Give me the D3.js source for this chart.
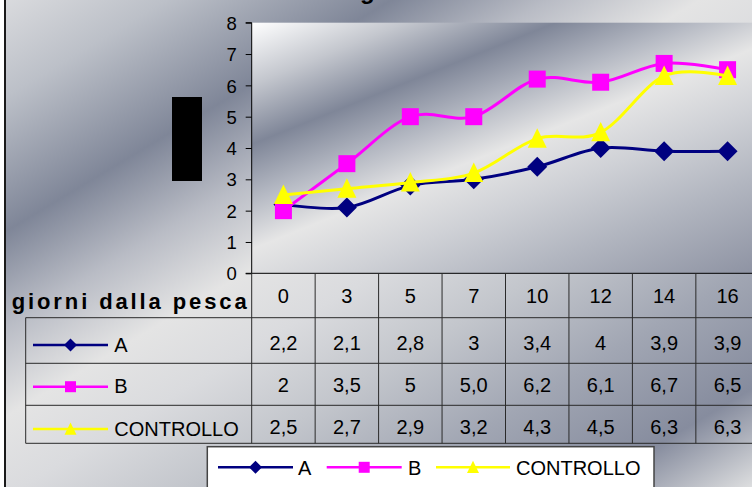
<!DOCTYPE html>
<html>
<head>
<meta charset="utf-8">
<script src="https://cdn.jsdelivr.net/npm/d3@7"></script>
<style>
  html, body { margin: 0; padding: 0; background: #ffffff; }
  svg { display: block; font-family: "Liberation Sans", Arial, sans-serif; }
</style>
</head>
<body>
<svg id="chart" width="752" height="487"></svg>
<script>
// Days since catch (category axis)
const days = ["0", "3", "5", "7", "10", "12", "14", "16"];
const seriesNames = ["A", "B", "CONTROLLO"];
const seriesColors = ["#000080", "#FF00FF", "#FFFF00"];
const seriesMarkers = ["diamond", "square", "triangle"];

// Series values
const valuesA = [2.2, 2.1, 2.8, 3, 3.4, 4, 3.9, 3.9];
const valuesB = [2, 3.5, 5, 5.0, 6.2, 6.1, 6.7, 6.5];
const valuesC = [2.5, 2.7, 2.9, 3.2, 4.3, 4.5, 6.3, 6.3];

// Cell texts of the data table
const labelsA = ["2,2", "2,1", "2,8", "3", "3,4", "4", "3,9", "3,9"];
const labelsB = ["2", "3,5", "5", "5,0", "6,2", "6,1", "6,7", "6,5"];
const labelsC = ["2,5", "2,7", "2,9", "3,2", "4,3", "4,5", "6,3", "6,3"];

const yTicks = [0, 1, 2, 3, 4, 5, 6, 7, 8];
const xAxisTitle = "giorni dalla pesca";
const chartTitle = "Valutazione del gusto";

const series = seriesNames.map((name, i) => ({
  name,
  color: seriesColors[i],
  marker: seriesMarkers[i],
  values: [valuesA, valuesB, valuesC][i],
  labels: [labelsA, labelsB, labelsC][i]
}));

const svg = d3.select("#chart");
const defs = svg.append("defs");

// Metallic background of the whole chart
const bgGrad = defs.append("linearGradient")
  .attr("id", "bgGrad").attr("gradientUnits", "userSpaceOnUse")
  .attr("x1", 0).attr("y1", 0).attr("x2", 441).attr("y2", 735);
[[0, "#dadbde"], [0.1, "#bcc0c8"], [0.235, "#7f8698"], [0.33, "#b9bcc5"], [0.42, "#e4e4e4"],
 [0.5, "#dadbde"], [0.6, "#c3c6cc"], [0.72, "#a1a6b3"], [0.84, "#868c9e"],
 [0.94, "#dedfe0"], [1, "#e6e6e6"]]
  .forEach(([o, c]) => bgGrad.append("stop").attr("offset", o).attr("stop-color", c));

// Metallic background of the plot area
const plotGrad = defs.append("linearGradient")
  .attr("id", "plotGrad").attr("gradientUnits", "userSpaceOnUse")
  .attr("x1", 34.5).attr("y1", 86.2).attr("x2", 206.9).attr("y2", 517.2);
[[0, "#ffffff"], [0.046, "#ffffff"], [0.17, "#c4c7ce"], [0.29, "#7f8698"], [0.4, "#b5b9c3"],
 [0.5, "#e6e6e6"], [0.62, "#cfd1d6"], [0.76, "#b2b6c0"], [0.95, "#8e93a3"], [1, "#8a90a0"]]
  .forEach(([o, c]) => plotGrad.append("stop").attr("offset", o).attr("stop-color", c));

// Chart area
svg.append("rect").attr("x", 5).attr("y", -50).attr("width", 800).attr("height", 600)
  .attr("fill", "url(#bgGrad)");
svg.append("line").attr("x1", 5).attr("x2", 5).attr("y1", 0).attr("y2", 487)
  .attr("stroke", "#1a1a1a").attr("stroke-width", 2);

// Title (mostly above the visible area)
const title = svg.append("text").attr("y", -1)
  .attr("font-size", 24).attr("font-weight", "bold").attr("fill", "#000")
  .text(chartTitle);
const gIdx = chartTitle.indexOf("g");
const gOffset = title.node().getSubStringLength(0, gIdx);
title.attr("x", 360 - gOffset);

// Scales
const x = d3.scaleBand().domain(days).range([251.7, 759.3]);
const y = d3.scaleLinear().domain([0, 8]).range([273.3, 22.7]);

// Plot area
svg.append("rect")
  .attr("x", x.range()[0]).attr("y", y(8))
  .attr("width", x.range()[1] - x.range()[0]).attr("height", y(0) - y(8))
  .attr("fill", "url(#plotGrad)");

// Y axis
const yAxis = svg.append("g").attr("transform", `translate(${x.range()[0]},0)`)
  .call(d3.axisLeft(y).tickValues(yTicks).tickSize(6).tickPadding(9).tickFormat(d3.format("d")));
yAxis.select(".domain").attr("stroke", "#000").attr("stroke-width", 1).attr("d", `M-6,${y(8)}H0V${y(0)}`);
yAxis.selectAll(".tick line").attr("stroke", "#000");
yAxis.selectAll(".tick text").attr("font-size", 18.5).attr("fill", "#000")
  .attr("font-family", "'Liberation Sans', Arial, sans-serif").attr("dy", "0.36em");

// Y axis title block
svg.append("rect").attr("x", 172).attr("y", 97).attr("width", 30).attr("height", 84).attr("fill", "#000");

// Data table
const rowTops = [273.3, 317.7, 363.3, 405.3, 443.3];
const headerBaseline = 302.7;
const rowBaselines = [350, 391.7, 434];
const keyLeft = 25.7;
const tableRight = x.range()[1];
const tbl = svg.append("g").attr("stroke", "#2a2a2a").attr("stroke-width", 1);

// x axis line / table top
tbl.append("line").attr("x1", x.range()[0] - 6).attr("x2", tableRight)
  .attr("y1", rowTops[0]).attr("y2", rowTops[0]).attr("stroke", "#000");
// horizontal rules
rowTops.slice(1).forEach((ry, i) => {
  tbl.append("line").attr("x1", keyLeft).attr("x2", tableRight).attr("y1", ry).attr("y2", ry);
});
// column rules
days.forEach(d => {
  tbl.append("line").attr("x1", x(d)).attr("x2", x(d)).attr("y1", rowTops[0]).attr("y2", rowTops[4]);
});
tbl.append("line").attr("x1", keyLeft).attr("x2", keyLeft).attr("y1", rowTops[1]).attr("y2", rowTops[4]);

// header row: categories
svg.append("g").selectAll("text").data(days).join("text")
  .attr("x", d => x(d) + x.bandwidth() / 2).attr("y", headerBaseline)
  .attr("text-anchor", "middle").attr("font-size", 20).attr("fill", "#000")
  .text(d => d);

svg.append("text").attr("x", 11.7).attr("y", 308.5)
  .attr("font-size", 22).attr("font-weight", "bold").attr("fill", "#000")
  .attr("textLength", 235).attr("lengthAdjust", "spacing")
  .text(xAxisTitle);

// Marker shapes
function markerPath(type, s) {
  if (type === "diamond") return `M0,${-s}L${s},0L0,${s}L${-s},0Z`;
  if (type === "square") return `M${-s},${-s}H${s}V${s}H${-s}Z`;
  return `M0,${-s * 1.1}L${s},${s * 0.95}H${-s}Z`;
}
const bigSize = { diamond: 10, square: 8.5, triangle: 9.5 };
const smallSize = { diamond: 6.5, square: 5.5, triangle: 6 };

function drawKey(g, s, x0, x1, cy) {
  g.append("line").attr("x1", x0).attr("x2", x1).attr("y1", cy).attr("y2", cy)
    .attr("stroke", s.color).attr("stroke-width", 2.5);
  g.append("path").attr("d", markerPath(s.marker, smallSize[s.marker]))
    .attr("transform", `translate(${(x0 + x1) / 2},${cy})`).attr("fill", s.color);
}

// series rows
const keyLineY = [345, 386.7, 429];
series.forEach((s, i) => {
  const g = svg.append("g");
  drawKey(g, s, 33, 108, keyLineY[i]);
  g.append("text").attr("x", 114.3).attr("y", rowBaselines[i] + 1.5)
    .attr("font-size", 20).attr("fill", "#000").text(s.name);
  g.selectAll("text.cell").data(s.labels).join("text").attr("class", "cell")
    .attr("x", (d, j) => x(days[j]) + x.bandwidth() / 2).attr("y", rowBaselines[i])
    .attr("text-anchor", "middle").attr("font-size", 20).attr("fill", "#000")
    .text(d => d);
});

// Series lines and markers
const line = d3.line()
  .x((d, j) => x(days[j]) + x.bandwidth() / 2)
  .y(d => y(d))
  .curve(d3.curveCardinal.tension(0));

series.forEach(s => {
  const g = svg.append("g");
  g.append("path").attr("d", line(s.values)).attr("fill", "none")
    .attr("stroke", s.color).attr("stroke-width", 3).attr("stroke-linejoin", "round");
  g.selectAll("path.m").data(s.values).join("path").attr("class", "m")
    .attr("d", markerPath(s.marker, bigSize[s.marker]))
    .attr("transform", (d, j) => `translate(${x(days[j]) + x.bandwidth() / 2},${y(d)})`)
    .attr("fill", s.color);
});

// Legend
const lg = svg.append("g");
lg.append("rect").attr("x", 207.3).attr("y", 446.7).attr("width", 446.7).attr("height", 60)
  .attr("fill", "#ffffff").attr("stroke", "#444").attr("stroke-width", 1.5);
const legendItems = [[218, 293, 298], [326.7, 401.7, 408], [436, 510, 516]];
series.forEach((s, i) => {
  const [a, b, tx] = legendItems[i];
  drawKey(lg, s, a, b, 467.3);
  lg.append("text").attr("x", tx).attr("y", 474.5).attr("font-size", 20).attr("fill", "#000").text(s.name);
});
</script>
</body>
</html>
